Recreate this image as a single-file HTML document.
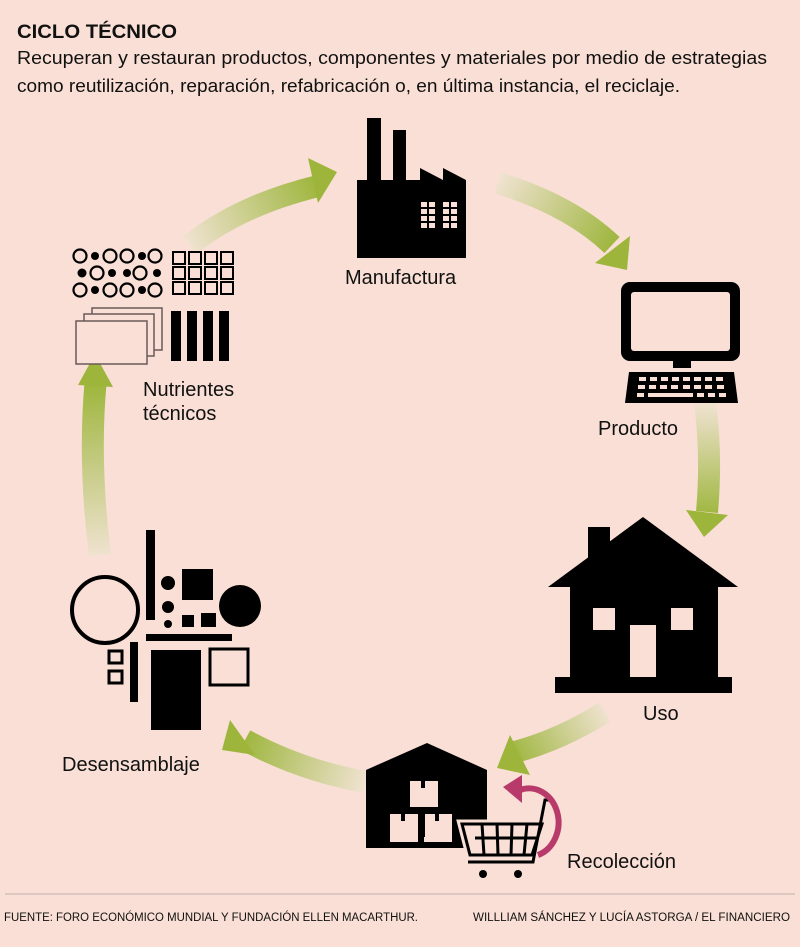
<!DOCTYPE html>
<html><head><meta charset="utf-8"><style>
html,body{margin:0;padding:0;background:#f9dfd5;}
svg{display:block;}
text{font-family:"Liberation Sans",sans-serif;fill:#111;}
</style></head><body>
<svg width="800" height="947" viewBox="0 0 800 947" xmlns="http://www.w3.org/2000/svg">
<defs>
<linearGradient id="g1" gradientUnits="userSpaceOnUse" x1="190" y1="245" x2="320" y2="180"><stop offset="0" stop-color="#efe2cf"/><stop offset="1" stop-color="#9cb53a"/></linearGradient>
<linearGradient id="g2" gradientUnits="userSpaceOnUse" x1="500" y1="180" x2="615" y2="250"><stop offset="0" stop-color="#efe2cf"/><stop offset="1" stop-color="#9cb53a"/></linearGradient>
<linearGradient id="g3" gradientUnits="userSpaceOnUse" x1="705" y1="405" x2="708" y2="520"><stop offset="0" stop-color="#efe2cf"/><stop offset="1" stop-color="#9cb53a"/></linearGradient>
<linearGradient id="g4" gradientUnits="userSpaceOnUse" x1="605" y1="710" x2="510" y2="760"><stop offset="0" stop-color="#efe2cf"/><stop offset="1" stop-color="#9cb53a"/></linearGradient>
<linearGradient id="g5" gradientUnits="userSpaceOnUse" x1="365" y1="780" x2="240" y2="740"><stop offset="0" stop-color="#efe2cf"/><stop offset="1" stop-color="#9cb53a"/></linearGradient>
<linearGradient id="g6" gradientUnits="userSpaceOnUse" x1="100" y1="555" x2="96" y2="380"><stop offset="0" stop-color="#efe2cf"/><stop offset="1" stop-color="#9cb53a"/></linearGradient>
</defs>

<text x="17" y="38" font-size="19" font-weight="bold" textLength="160" lengthAdjust="spacingAndGlyphs">CICLO TÉCNICO</text>
<text x="17" y="64" font-size="18" textLength="750" lengthAdjust="spacingAndGlyphs">Recuperan y restauran productos, componentes y materiales por medio de estrategias</text>
<text x="17" y="92" font-size="18" textLength="663" lengthAdjust="spacingAndGlyphs">como reutilización, reparación, refabricación o, en última instancia, el reciclaje.</text>

<path d="M190,245 Q240,205 318,186" stroke="url(#g1)" stroke-width="22" fill="none"/>
<polygon points="308,158 337,172 318,203" fill="#9cb53a"/>
<path d="M498,183 Q570,205 612,245" stroke="url(#g2)" stroke-width="22" fill="none"/>
<polygon points="630,236 627,270 595,263" fill="#9cb53a"/>
<path d="M705,403 Q712,455 707,512" stroke="url(#g3)" stroke-width="22" fill="none"/>
<polygon points="686,510 728,515 704,537" fill="#9cb53a"/>
<path d="M605,712 Q560,740 515,752" stroke="url(#g4)" stroke-width="22" fill="none"/>
<polygon points="510,735 497,768 530,775" fill="#9cb53a"/>
<path d="M365,782 Q300,770 245,740" stroke="url(#g5)" stroke-width="22" fill="none"/>
<polygon points="230,720 222,750 255,755" fill="#9cb53a"/>
<path d="M100,555 Q88,460 96,378" stroke="url(#g6)" stroke-width="22" fill="none"/>
<polygon points="78,385 95,354 113,387" fill="#9cb53a"/>

<g fill="#000">
<rect x="367" y="118" width="14" height="64"/>
<rect x="393" y="130" width="13" height="52"/>
<polygon points="357,180 420,180 420,168 443,180 443,168 466,180 466,258 357,258"/>
</g>
<g fill="#f9dfd5">
<rect x="421" y="202" width="6" height="5"/><rect x="429" y="202" width="6" height="5"/>
<rect x="421" y="209" width="6" height="5"/><rect x="429" y="209" width="6" height="5"/>
<rect x="421" y="216" width="6" height="5"/><rect x="429" y="216" width="6" height="5"/>
<rect x="421" y="223" width="6" height="5"/><rect x="429" y="223" width="6" height="5"/>
<rect x="443" y="202" width="6" height="5"/><rect x="451" y="202" width="6" height="5"/>
<rect x="443" y="209" width="6" height="5"/><rect x="451" y="209" width="6" height="5"/>
<rect x="443" y="216" width="6" height="5"/><rect x="451" y="216" width="6" height="5"/>
<rect x="443" y="223" width="6" height="5"/><rect x="451" y="223" width="6" height="5"/>
</g>
<text x="345" y="284" font-size="20">Manufactura</text>

<rect x="621" y="282" width="119" height="79" rx="9" fill="#000"/>
<rect x="631" y="292" width="99" height="59" rx="3" fill="#f9dfd5"/>
<rect x="673" y="360" width="18" height="8" fill="#000"/>
<polygon points="629,372 734,372 738,403 625,403" fill="#000"/>
<g fill="#f9dfd5">
<rect x="639" y="377" width="7" height="4"/><rect x="650" y="377" width="7" height="4"/><rect x="661" y="377" width="7" height="4"/><rect x="672" y="377" width="7" height="4"/><rect x="683" y="377" width="7" height="4"/><rect x="694" y="377" width="7" height="4"/><rect x="705" y="377" width="7" height="4"/><rect x="716" y="377" width="7" height="4"/>
<rect x="638" y="385" width="7" height="4"/><rect x="649" y="385" width="7" height="4"/><rect x="660" y="385" width="7" height="4"/><rect x="671" y="385" width="7" height="4"/><rect x="683" y="385" width="7" height="4"/><rect x="694" y="385" width="7" height="4"/><rect x="705" y="385" width="7" height="4"/><rect x="717" y="385" width="7" height="4"/>
<rect x="637" y="393" width="7" height="4"/><rect x="648" y="393" width="45" height="4"/><rect x="697" y="393" width="7" height="4"/><rect x="708" y="393" width="7" height="4"/><rect x="719" y="393" width="7" height="4"/>
</g>
<text x="598" y="435" font-size="20">Producto</text>

<g fill="#000">
<rect x="588" y="527" width="22" height="35"/>
<polygon points="643,517 738,587 548,587"/>
<rect x="570" y="586" width="148" height="92"/>
<rect x="555" y="677" width="177" height="16"/>
</g>
<g fill="#f9dfd5">
<rect x="593" y="608" width="22" height="22"/><rect x="671" y="608" width="22" height="22"/>
<rect x="630" y="625" width="26" height="52"/>
</g>
<text x="643" y="720" font-size="20">Uso</text>

<polygon points="427,743 487,770 487,848 366,848 366,770" fill="#000"/>
<g fill="#f9dfd5">
<rect x="410" y="781" width="28" height="26"/>
<rect x="390" y="814" width="28" height="28"/>
<rect x="424" y="814" width="28" height="28"/>
</g>
<g fill="#000">
<rect x="421" y="781" width="4" height="7"/><rect x="401" y="814" width="4" height="7"/><rect x="435" y="814" width="4" height="7"/>
<rect x="422" y="807" width="3" height="30"/>
</g>
<polygon points="462,824 542,824 532,855 470,855" fill="#f9dfd5" stroke="#f9dfd5" stroke-width="9"/>
<g fill="none" stroke="#000" stroke-width="3">
<polyline points="552,800 545,800 533,862 468,862"/>
<polygon points="462,824 542,824 532,855 470,855"/>
<line x1="475" y1="838" x2="538" y2="838"/>
<line x1="482" y1="824" x2="484" y2="855"/><line x1="497" y1="824" x2="498" y2="855"/><line x1="512" y1="824" x2="511" y2="855"/><line x1="527" y1="824" x2="524" y2="855"/>
</g>
<circle cx="483" cy="874" r="4" fill="#000"/><circle cx="518" cy="874" r="4" fill="#000"/>
<path d="M538,855 A26,30 0 0 0 520,790" stroke="#b83a6a" stroke-width="6" fill="none"/>
<polygon points="503,787 522,775 522,803" fill="#b83a6a"/>
<text x="567" y="868" font-size="20">Recolección</text>

<g fill="#000">
<rect x="146" y="530" width="9" height="90"/>
<circle cx="168" cy="583" r="7"/><circle cx="168" cy="607" r="6"/><circle cx="168" cy="624" r="4"/>
<rect x="182" y="569" width="31" height="31"/>
<circle cx="240" cy="606" r="21"/>
<rect x="182" y="615" width="12" height="12"/><rect x="201" y="613" width="15" height="14"/>
<rect x="146" y="634" width="86" height="7"/>
<rect x="130" y="642" width="8" height="60"/>
<rect x="151" y="650" width="50" height="80"/>
</g>
<g fill="none" stroke="#000">
<circle cx="105" cy="610" r="33" stroke-width="4"/>
<rect x="109" y="651" width="13" height="12" stroke-width="3"/>
<rect x="109" y="671" width="13" height="12" stroke-width="3"/>
<rect x="210" y="649" width="38" height="36" stroke-width="3"/>
</g>
<text x="62" y="771" font-size="20">Desensamblaje</text>

<g fill="none" stroke="#000" stroke-width="2.2">
<circle cx="80" cy="256" r="6.5"/><circle cx="110" cy="256" r="6.5"/><circle cx="127" cy="256" r="6.5"/><circle cx="155" cy="256" r="6.5"/>
<circle cx="97" cy="273" r="6.5"/><circle cx="140" cy="273" r="6.5"/>
<circle cx="80" cy="290" r="6.5"/><circle cx="110" cy="290" r="6.5"/><circle cx="127" cy="290" r="6.5"/><circle cx="155" cy="290" r="6.5"/>
</g>
<g fill="#000">
<circle cx="95" cy="256" r="4"/><circle cx="142" cy="256" r="4"/>
<circle cx="82" cy="273" r="4.5"/><circle cx="112" cy="273" r="4"/><circle cx="127" cy="273" r="4"/><circle cx="157" cy="273" r="4"/>
<circle cx="95" cy="290" r="4"/><circle cx="142" cy="290" r="4"/>
</g>
<g fill="none" stroke="#000" stroke-width="2">
<rect x="173" y="252" width="12" height="12"/><rect x="189" y="252" width="12" height="12"/><rect x="205" y="252" width="12" height="12"/><rect x="221" y="252" width="12" height="12"/>
<rect x="173" y="267" width="12" height="12"/><rect x="189" y="267" width="12" height="12"/><rect x="205" y="267" width="12" height="12"/><rect x="221" y="267" width="12" height="12"/>
<rect x="173" y="282" width="12" height="12"/><rect x="189" y="282" width="12" height="12"/><rect x="205" y="282" width="12" height="12"/><rect x="221" y="282" width="12" height="12"/>
</g>
<g fill="#f9dfd5" stroke="#6a5a58" stroke-width="1.5">
<rect x="92" y="308" width="70" height="42"/>
<rect x="84" y="314" width="70" height="42"/>
<rect x="76" y="321" width="71" height="43"/>
</g>
<g fill="#000">
<rect x="171" y="311" width="10" height="50"/><rect x="187" y="311" width="10" height="50"/><rect x="203" y="311" width="10" height="50"/><rect x="219" y="311" width="10" height="50"/>
</g>
<text x="143" y="396" font-size="20">Nutrientes</text>
<text x="143" y="420" font-size="20">técnicos</text>

<line x1="5" y1="894" x2="795" y2="894" stroke="#bfb0aa" stroke-width="1"/>
<text x="4" y="921" font-size="11.5" textLength="414" lengthAdjust="spacingAndGlyphs">FUENTE: FORO ECONÓMICO MUNDIAL Y FUNDACIÓN ELLEN MACARTHUR.</text>
<text x="473" y="921" font-size="11.5" textLength="317" lengthAdjust="spacingAndGlyphs">WILLLIAM SÁNCHEZ Y LUCÍA ASTORGA / EL FINANCIERO</text>
</svg>
</body></html>
